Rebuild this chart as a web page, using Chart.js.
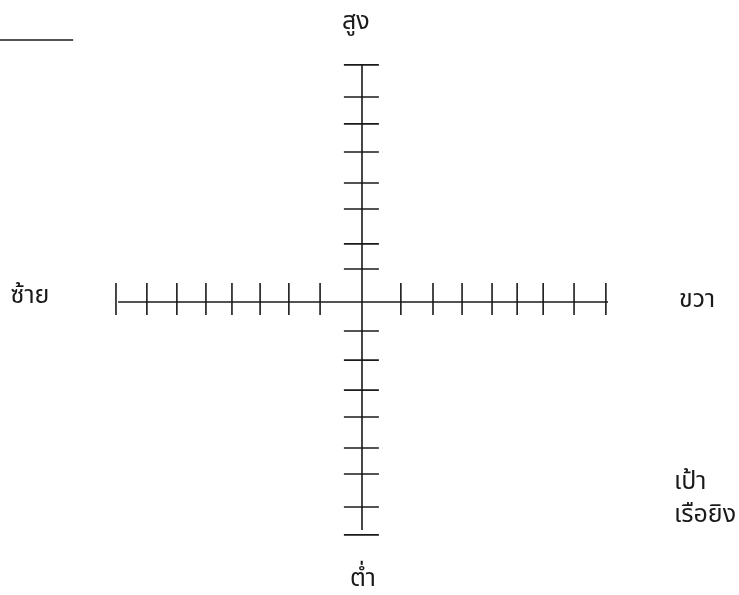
<!DOCTYPE html>
<html>
<head>
<meta charset="utf-8">
<script src="https://cdn.jsdelivr.net/npm/chart.js@4.4.0/dist/chart.umd.min.js"></script>
<style>
  html, body { margin: 0; padding: 0; background: #fff; }
  #wrap { width: 739px; height: 595px; position: relative; }
</style>
</head>
<body>
<div id="wrap"><canvas id="cross"></canvas></div>
<script>
// tick marks (1 unit ~ one tick gap)
var xTicks = [-8.04, -7.03, -6.05, -5.10, -4.25, -3.33, -2.39, -1.37,
              1.27, 2.32, 3.27, 4.25, 5.07, 5.92, 6.93, 7.97];
var yTicks = [7.75, 6.70, 5.82, 4.90, 3.89, 3.04, 1.90, 1.08,
              -0.95, -1.90, -2.88, -3.76, -4.77, -5.62, -6.70, -7.61];
// axis ends
var hAxis = [-7.97, 8.04];
var vAxis = [7.75, -7.45];
// short line top-left
var topLineX = [-11.9, -9.44];
var topLineY = 8.56;

var labelText = ["สูง", "ต่ำ", "ซ้าย", "ขวา", "เป้า", "เรือยิง"];
var labelX = [-0.2, 0.03, -10.85, 10.95, 10.2, 10.2];
var labelY = [9.08, -9.12, 0.13, 0.0, -5.95, -7.03];
var labelAlign = ["center", "center", "center", "center", "left", "left"];

var ink = "#1a1a1a";

var textPlugin = {
  id: "crossText",
  afterDatasetsDraw: function(chart) {
    var ctx = chart.ctx;
    var sx = chart.scales.x, sy = chart.scales.y;
    ctx.save();
    ctx.fillStyle = ink;
    ctx.font = "25px 'Noto Sans Thai', 'Noto Sans', sans-serif";
    ctx.textBaseline = "middle";
    for (var i = 0; i < labelText.length; i++) {
      ctx.textAlign = labelAlign[i];
      ctx.fillText(labelText[i], sx.getPixelForValue(labelX[i]), sy.getPixelForValue(labelY[i]));
    }
    ctx.restore();
  }
};

var seg = function(pts) {
  return {
    data: pts,
    showLine: true,
    borderColor: ink,
    borderWidth: 1.6,
    pointRadius: 0,
    fill: false
  };
};

new Chart("cross", {
  type: "scatter",
  data: {
    datasets: [
      seg([{x: hAxis[0], y: 0}, {x: hAxis[1], y: 0}]),
      seg([{x: 0, y: vAxis[0]}, {x: 0, y: vAxis[1]}]),
      seg([{x: topLineX[0], y: topLineY}, {x: topLineX[1], y: topLineY}]),
      {
        data: xTicks.map(function(v) { return {x: v, y: 0.1}; }),
        pointStyle: "line",
        rotation: 90,
        pointRadius: 16,
        pointBorderColor: ink,
        pointBorderWidth: 1.6,
        showLine: false
      },
      {
        data: yTicks.map(function(v) { return {x: -0.02, y: v}; }),
        pointStyle: "line",
        rotation: 0,
        pointRadius: 17.5,
        pointBorderColor: ink,
        pointBorderWidth: 1.6,
        showLine: false
      }
    ]
  },
  options: {
    responsive: true,
    maintainAspectRatio: false,
    animation: false,
    layout: {padding: 0, autoPadding: false},
    plugins: {legend: {display: false}, tooltip: {enabled: false}},
    scales: {
      x: {display: false, min: -362 / 30.6, max: 377 / 30.6},
      y: {display: false, min: -293 / 30.6, max: 302 / 30.6}
    }
  },
  plugins: [textPlugin]
});
</script>
</body>
</html>
